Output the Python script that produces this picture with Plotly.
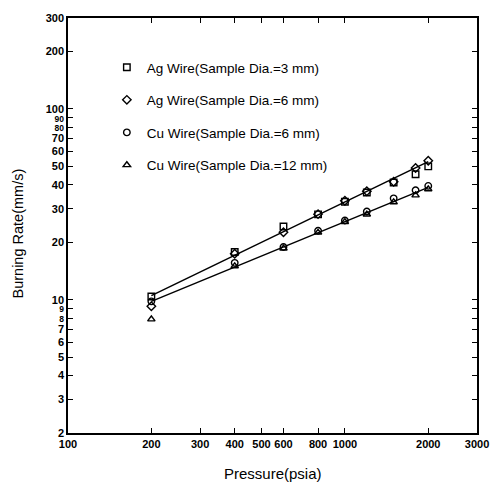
import plotly.graph_objects as go

# Pressure (psia) at which burning rates were measured
pressure = [200, 400, 600, 800, 1000, 1200, 1500, 1800, 2000]

# Burning rate (mm/s) for each wire / sample diameter
ag_3mm = [10.4, 17.8, 24.2, 28.0, 32.6, 36.5, 41.2, 45.5, 50.0]
ag_6mm = [9.25, 17.4, 22.6, 28.1, 33.0, 37.0, 41.5, 49.0, 53.5]
cu_6mm = [9.8, 15.6, 18.9, 23.0, 26.0, 29.0, 34.0, 37.5, 39.5]
cu_12mm = [7.9, 15.0, 18.6, 22.5, 25.6, 28.0, 32.5, 35.3, 38.0]

# Power-law fit lines (end points)
fit_pressure = [200, 2000]
ag_fit = [10.5, 53.0]
cu_fit = [9.8, 38.8]

series_names = [
    "Ag Wire(Sample Dia.=3 mm)",
    "Ag Wire(Sample Dia.=6 mm)",
    "Cu Wire(Sample Dia.=6 mm)",
    "Cu Wire(Sample Dia.=12 mm)",
]
series_symbols = ["square-open", "diamond-open", "circle-open", "triangle-up-open"]

x_ticks = [100, 200, 300, 400, 500, 600, 800, 1000, 2000, 3000]
y_ticks = [2, 3, 4, 5, 6, 7, 8, 9, 10, 20, 30, 40, 50, 60, 70, 80, 90, 100, 200, 300]
# crowded labels just below each decade are set in a smaller size
y_small = {8, 9, 80, 90}

FONT = "Liberation Sans, Arial, sans-serif"

fig = go.Figure()

for fy in (ag_fit, cu_fit):
    fig.add_trace(go.Scatter(
        x=fit_pressure, y=fy, mode="lines",
        line=dict(color="black", width=1.5),
        showlegend=False, hoverinfo="skip",
    ))

for i, (name, sym, ys) in enumerate(zip(series_names, series_symbols,
                                         [ag_3mm, ag_6mm, cu_6mm, cu_12mm])):
    fig.add_trace(go.Scatter(
        x=pressure, y=ys, mode="markers", name=name,
        legendgroup=f"g{i}",
        marker=dict(symbol=sym, size=6.5, color="black",
                    line=dict(color="black", width=1.4)),
    ))

axis_common = dict(
    type="log",
    showgrid=False,
    zeroline=False,
    showline=True,
    linecolor="black",
    linewidth=1.5,
    mirror="ticks",
    ticks="inside",
    ticklen=5,
    tickwidth=1.2,
    tickcolor="black",
    tickfont=dict(family=FONT, size=11, color="black", weight="bold"),
    tickmode="array",
)

fig.update_xaxes(
    **axis_common,
    range=[2, 3.4771],
    tickvals=x_ticks,
    ticktext=[str(v) for v in x_ticks],
)
fig.update_yaxes(
    **axis_common,
    range=[0.30103, 2.4771],
    tickvals=y_ticks,
    ticktext=[f'<span style="font-size:8.5px">{v}</span>' if v in y_small else str(v)
              for v in y_ticks],
)

fig.add_annotation(
    text="Pressure(psia)", xref="paper", yref="paper",
    x=0.5, y=-0.072, xanchor="center", yanchor="top", showarrow=False,
    font=dict(family=FONT, size=15, color="black"),
)
fig.add_annotation(
    text="Burning Rate(mm/s)", xref="paper", yref="paper",
    x=-0.123, y=0.48, xanchor="center", yanchor="middle", showarrow=False,
    textangle=-90,
    font=dict(family=FONT, size=14.5, color="black"),
)

fig.update_layout(
    width=501, height=486,
    margin=dict(l=68, r=14, t=12, b=53),
    paper_bgcolor="white",
    plot_bgcolor="white",
    showlegend=True,
    legend=dict(
        x=0.095, y=0.918, xanchor="left", yanchor="top",
        bgcolor="rgba(0,0,0,0)",
        font=dict(family=FONT, size=13.5, color="black"),
        traceorder="grouped",
        tracegroupgap=12,
    ),
)

fig.write_html("out.html")
